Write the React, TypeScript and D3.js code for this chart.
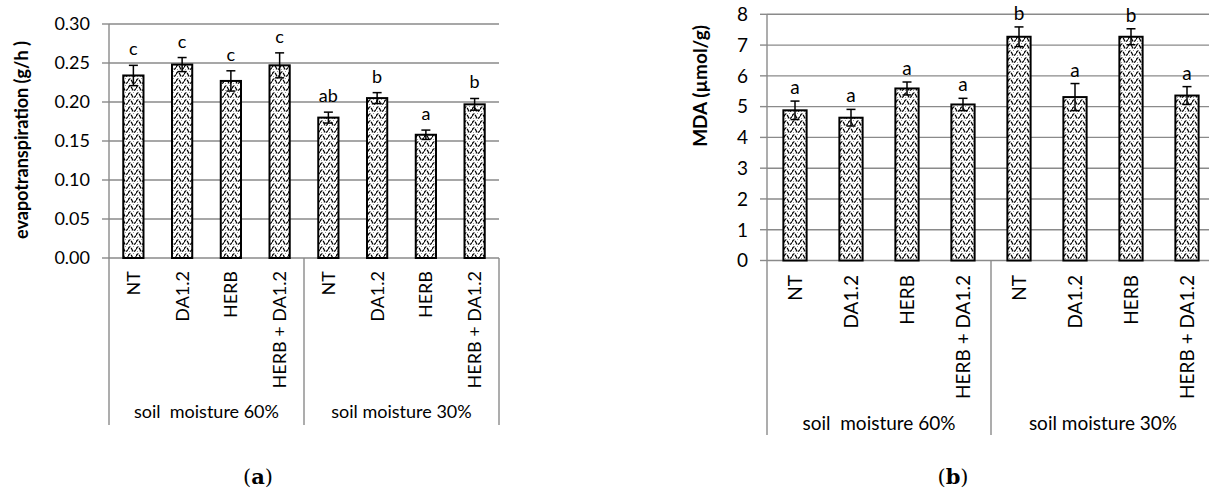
import React, { useEffect, useRef } from 'react';
import * as d3 from 'd3';

// categories
const treatments = ['NT', 'DA1.2', 'HERB', 'HERB + DA1.2'];
const moistureGroups = ['soil  moisture 60%', 'soil moisture 30%'];

// panel (a) evapotranspiration
const etValues = [0.234, 0.248, 0.227, 0.247, 0.180, 0.205, 0.158, 0.197];
const etErrors = [0.013, 0.009, 0.013, 0.016, 0.007, 0.007, 0.006, 0.0075];
const etLetters = ['c', 'c', 'c', 'c', 'ab', 'b', 'a', 'b'];
const etTicks = [0, 0.05, 0.1, 0.15, 0.2, 0.25, 0.3];

// panel (b) MDA
const mdaValues = [4.88, 4.64, 5.59, 5.07, 7.27, 5.31, 7.27, 5.36];
const mdaErrors = [0.30, 0.27, 0.21, 0.20, 0.32, 0.44, 0.26, 0.29];
const mdaLetters = ['a', 'a', 'a', 'a', 'b', 'a', 'b', 'a'];
const mdaTicks = [0, 1, 2, 3, 4, 5, 6, 7, 8];

const FONT = 'Lato, "Open Sans", sans-serif';

function drawPanel(svg, opt) {
  const { values, errors, letters, ticks, fmt, x0, step, yTop, yBottom, yMax,
    fontSize, title, titleX, titleY, catTop, groupY, lineBottom, letterGap,
    tag, tagX } = opt;
  const keys = [];
  moistureGroups.forEach((g, gi) => treatments.forEach(t => keys.push(gi + '|' + t)));
  const x = d3.scaleBand().domain(keys)
    .range([x0, x0 + step * keys.length])
    .paddingInner(0.585).paddingOuter(0.2925);
  const y = d3.scaleLinear().domain([0, yMax]).range([yBottom, yTop]);
  const xEnd = x0 + step * keys.length;
  const g = svg.append('g');

  // gridlines
  g.selectAll('.grid').data(ticks).enter().append('line')
    .attr('x1', x0).attr('x2', xEnd)
    .attr('y1', d => y(d)).attr('y2', d => y(d))
    .attr('stroke', '#8a8a8a').attr('stroke-width', 1.4);

  // y axis
  g.append('line').attr('x1', x0).attr('x2', x0).attr('y1', y(yMax)).attr('y2', lineBottom)
    .attr('stroke', '#8a8a8a').attr('stroke-width', 1.4);
  g.selectAll('.tick').data(ticks).enter().append('line')
    .attr('x1', x0 - 7).attr('x2', x0)
    .attr('y1', d => y(d)).attr('y2', d => y(d))
    .attr('stroke', '#8a8a8a').attr('stroke-width', 1.4);
  g.selectAll('.tl').data(ticks).enter().append('text')
    .attr('x', x0 - 19).attr('y', d => y(d)).attr('dy', '0.36em')
    .attr('text-anchor', 'end').attr('font-family', FONT).attr('font-size', fontSize)
    .attr('fill', '#000').text(fmt);
  g.append('text')
    .attr('transform', `translate(${titleX},${titleY}) rotate(-90)`)
    .attr('dy', '0.36em').attr('text-anchor', 'middle')
    .attr('font-family', FONT).attr('font-size', fontSize).attr('font-weight', 'bold')
    .text(title);

  // group separators
  [1, 2].forEach(i => {
    g.append('line').attr('x1', x0 + step * 4 * i).attr('x2', x0 + step * 4 * i)
      .attr('y1', yBottom).attr('y2', lineBottom)
      .attr('stroke', '#8a8a8a').attr('stroke-width', 1.4);
  });

  // bars
  g.selectAll('.bar').data(values).enter().append('rect')
    .attr('x', (d, i) => x(keys[i])).attr('width', x.bandwidth())
    .attr('y', d => y(d)).attr('height', d => y(0) - y(d))
    .attr('fill', 'url(#wave)').attr('stroke', '#000').attr('stroke-width', 2);

  // error bars
  const cx = i => x(keys[i]) + x.bandwidth() / 2;
  const eb = g.selectAll('.err').data(values).enter().append('g');
  eb.append('line').attr('x1', (d, i) => cx(i)).attr('x2', (d, i) => cx(i))
    .attr('y1', (d, i) => y(d + errors[i])).attr('y2', (d, i) => y(d - errors[i]));
  eb.append('line').attr('x1', (d, i) => cx(i) - 4.5).attr('x2', (d, i) => cx(i) + 4.5)
    .attr('y1', (d, i) => y(d + errors[i])).attr('y2', (d, i) => y(d + errors[i]));
  eb.append('line').attr('x1', (d, i) => cx(i) - 4.5).attr('x2', (d, i) => cx(i) + 4.5)
    .attr('y1', (d, i) => y(d - errors[i])).attr('y2', (d, i) => y(d - errors[i]));
  eb.selectAll('line').attr('stroke', '#000').attr('stroke-width', 1.5);

  // letters
  g.selectAll('.let').data(letters).enter().append('text')
    .attr('x', (d, i) => cx(i)).attr('y', (d, i) => y(values[i] + errors[i]) - letterGap)
    .attr('text-anchor', 'middle').attr('font-family', FONT).attr('font-size', fontSize)
    .attr('fill', '#000').text(d => d);

  // category labels
  g.selectAll('.cat').data(keys).enter().append('text')
    .attr('transform', (d, i) => `translate(${cx(i)},${catTop}) rotate(-90)`)
    .attr('dy', '0.36em').attr('text-anchor', 'end')
    .attr('font-family', FONT).attr('font-size', fontSize).attr('fill', '#000')
    .text(d => d.split('|')[1]);

  // group labels
  g.selectAll('.grp').data(moistureGroups).enter().append('text')
    .attr('x', (d, i) => x0 + step * (4 * i + 2)).attr('y', groupY)
    .attr('text-anchor', 'middle').attr('font-family', FONT).attr('font-size', fontSize)
    .attr('fill', '#000').style('white-space', 'pre').text(d => d);

  // panel tag
  const t = svg.append('text').attr('x', tagX).attr('y', 484).attr('text-anchor', 'middle')
    .attr('font-family', '"DejaVu Serif", serif').attr('font-size', 21);
  t.append('tspan').text('(');
  t.append('tspan').attr('font-weight', 'bold').text(tag);
  t.append('tspan').text(')');
}

export default function App() {
  const svgRef = useRef(null);

  useEffect(() => {
    const svg = d3.select(svgRef.current);
    svg.selectAll('*').remove();

    // wave fill pattern
    const pat = svg.append('defs').append('pattern').attr('id', 'wave')
      .attr('patternUnits', 'userSpaceOnUse').attr('width', 8).attr('height', 7);
    pat.append('rect').attr('width', 8).attr('height', 7).attr('fill', '#fff');
    pat.append('path').attr('d', 'M0,4.5 C1.5,1 2.5,1 4,4.5 S6.5,6.5 8,4.5')
      .attr('fill', 'none').attr('stroke', '#000').attr('stroke-width', 1.2)
      .attr('stroke-dasharray', '4,1');
    pat.append('rect').attr('x', 1).attr('y', 6).attr('width', 1).attr('height', 1).attr('fill', '#999');
    pat.append('rect').attr('x', 5).attr('y', 1).attr('width', 1).attr('height', 1).attr('fill', '#999');
    pat.append('rect').attr('x', 3).attr('y', 5.5).attr('width', 1).attr('height', 1).attr('fill', '#bbb');

    drawPanel(svg, {
      values: etValues, errors: etErrors, letters: etLetters, ticks: etTicks,
      fmt: d => d3.format('.2f')(d), x0: 109, step: 48.75, yTop: 24, yBottom: 258, yMax: 0.3,
      fontSize: 18, title: 'evapotranspiration (g/h )', titleX: 22, titleY: 140,
      catTop: 271, groupY: 418, lineBottom: 425, letterGap: 10, tag: 'a', tagX: 258,
    });
    drawPanel(svg, {
      values: mdaValues, errors: mdaErrors, letters: mdaLetters, ticks: mdaTicks,
      fmt: d => d3.format('d')(d), x0: 767, step: 56, yTop: 14.3, yBottom: 260.5, yMax: 8,
      fontSize: 19, title: 'MDA (µmol/g)', titleX: 700, titleY: 86,
      catTop: 275, groupY: 430, lineBottom: 435, letterGap: 7, tag: 'b', tagX: 953,
    });
  }, []);

  return (
    <svg ref={svgRef} width={1209} height={488}
      style={{ position: 'absolute', left: 0, top: 0, background: '#fff' }} />
  );
}
